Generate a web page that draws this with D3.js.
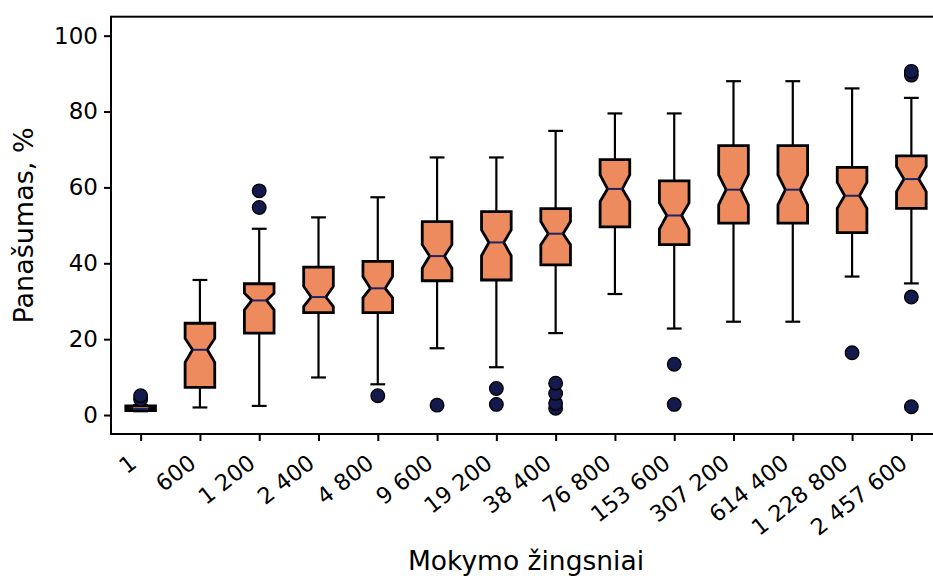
<!DOCTYPE html>
<html>
<head>
<meta charset="utf-8">
<script src="https://cdn.jsdelivr.net/npm/d3@7"></script>
<style>
  html, body { margin: 0; padding: 0; background: #fff; }
  svg { display: block; }
  text { font-family: "DejaVu Sans", sans-serif; fill: #000; }
</style>
</head>
<body>
<svg id="chart" width="933" height="576"></svg>
<script>
const categories = ["1","600","1 200","2 400","4 800","9 600","19 200","38 400","76 800","153 600","307 200","614 400","1 228 800","2 457 600"];
const whiskerLow  = [1.0, 2.0, 2.4, 9.9, 8.1, 17.6, 12.6, 21.6, 31.9, 22.8, 24.6, 24.6, 36.5, 34.7];
const q1          = [1.2, 7.3, 21.6, 27.0, 27.0, 35.4, 35.6, 39.6, 49.6, 44.9, 50.6, 50.6, 48.1, 54.5];
const medians     = [1.6, 17.2, 30.2, 31.1, 33.4, 41.9, 45.5, 47.8, 59.6, 52.6, 59.4, 59.4, 57.8, 62.2];
const q3          = [2.4, 24.2, 34.6, 39.0, 40.5, 51.0, 53.6, 54.4, 67.3, 61.7, 71.0, 71.0, 65.3, 68.3];
const whiskerHigh = [2.6, 35.6, 49.1, 52.1, 57.4, 67.9, 67.9, 74.9, 79.5, 79.5, 88.0, 88.0, 86.1, 83.6];
const notchLow    = [1.45, 13.9, 27.7, 28.6, 30.9, 38.7, 42.0, 44.9, 56.3, 49.0, 55.4, 55.4, 54.5, 58.9];
const notchHigh   = [1.75, 20.2, 32.1, 33.9, 36.5, 44.9, 48.8, 51.0, 63.3, 55.9, 63.3, 63.3, 61.3, 65.5];
const outliers = [
  [4.1, 5.1], [], [54.7, 59.1], [], [5.1], [2.6], [2.8, 7.0],
  [1.8, 3.1, 5.7, 8.4], [], [2.8, 13.4], [], [], [16.4], [2.2, 31.1, 89.6, 90.6]
];
const yTicks = [0, 20, 40, 60, 80, 100];
const yLabel = "Panašumas, %";
const xLabel = "Mokymo žingsniai";

const svg = d3.select("#chart");
const pLeft = 111, pRight = 941, pTop = 16.7, pBottom = 434;
const positions = categories.map((c, i) => i + 1);

const x = d3.scaleLinear().domain([0.5, 14.5]).range([pLeft, pRight]);
const y = d3.scaleLinear().domain([-5, 105]).range([pBottom, pTop]);

const boxW = 0.5; // in data units
const fill = "#ee8b5e", medColor = "#1f2460", outFill = "#141a4b";

const g = svg.append("g");

categories.forEach((c, i) => {
  const p = positions[i];
  const cx = x(p);
  const capHalf = (x(p + boxW / 4) - x(p));
  const gg = g.append("g");
  gg.append("line").attr("x1", cx).attr("x2", cx).attr("y1", y(whiskerLow[i])).attr("y2", y(q1[i]))
    .attr("stroke", "#000").attr("stroke-width", 2.2);
  gg.append("line").attr("x1", cx).attr("x2", cx).attr("y1", y(q3[i])).attr("y2", y(whiskerHigh[i]))
    .attr("stroke", "#000").attr("stroke-width", 2.2);
  [whiskerLow[i], whiskerHigh[i]].forEach(v => {
    gg.append("line").attr("x1", cx - capHalf).attr("x2", cx + capHalf).attr("y1", y(v)).attr("y2", y(v))
      .attr("stroke", "#000").attr("stroke-width", 2.2);
  });
  const l = x(p - boxW / 2), r = x(p + boxW / 2), w = r - l;
  const pts = [
    [l, y(q1[i])], [l, y(notchLow[i])], [l + w * 0.25, y(medians[i])], [l, y(notchHigh[i])], [l, y(q3[i])],
    [r, y(q3[i])], [r, y(notchHigh[i])], [r - w * 0.25, y(medians[i])], [r, y(notchLow[i])], [r, y(q1[i])]
  ];
  gg.append("path").attr("d", d3.line()(pts) + "Z")
    .attr("fill", fill).attr("stroke", "#000").attr("stroke-width", 2.8).attr("stroke-linejoin", "miter");
  gg.append("line").attr("x1", l + w * 0.25).attr("x2", r - w * 0.25).attr("y1", y(medians[i])).attr("y2", y(medians[i]))
    .attr("stroke", medColor).attr("stroke-width", 2);
  outliers[i].forEach(v => {
    gg.append("circle").attr("cx", cx).attr("cy", y(v)).attr("r", 6.8)
      .attr("fill", outFill).attr("stroke", "#000").attr("stroke-width", 1.3);
  });
});

svg.append("rect").attr("x", pLeft).attr("y", pTop).attr("width", pRight - pLeft).attr("height", pBottom - pTop)
  .attr("fill", "none").attr("stroke", "#000").attr("stroke-width", 2);

const yAxis = d3.axisLeft(y).tickValues(yTicks).tickSize(7).tickPadding(6).tickFormat(d3.format("d"));
const ya = svg.append("g").attr("transform", `translate(${pLeft},0)`).call(yAxis);
ya.select(".domain").remove();
ya.selectAll(".tick line").attr("stroke", "#000").attr("stroke-width", 2);
ya.selectAll(".tick text").attr("font-size", 23).attr("font-family", "DejaVu Sans").attr("fill", "#000");

const xAxis = d3.axisBottom(x).tickValues(positions).tickSize(7).tickFormat((d, i) => categories[i]);
const xa = svg.append("g").attr("transform", `translate(0,${pBottom})`).call(xAxis);
xa.select(".domain").remove();
xa.selectAll(".tick line").attr("stroke", "#000").attr("stroke-width", 2);
const ang = 38, fs = 22.5;
const asc = fs * 0.73;
xa.selectAll(".tick text")
  .attr("font-size", fs).attr("font-family", "DejaVu Sans").attr("fill", "#000")
  .attr("text-anchor", "end").attr("dy", null).attr("y", null)
  .attr("transform", `translate(-3,${10 + asc * Math.cos(ang * Math.PI / 180) + 9}) rotate(${-ang})`);

svg.append("text").attr("x", 526).attr("y", 570).attr("text-anchor", "middle")
  .attr("font-size", 26.5).text(xLabel);
svg.append("text").attr("transform", `translate(33,225.5) rotate(-90)`)
  .attr("text-anchor", "middle").attr("font-size", 27).text(yLabel);
</script>
</body>
</html>
